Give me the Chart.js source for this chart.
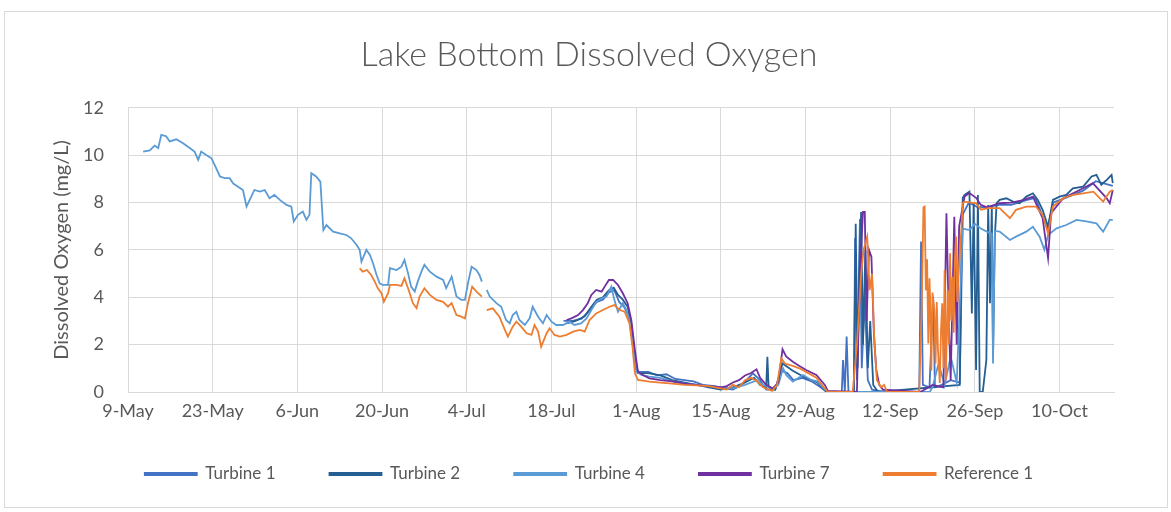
<!DOCTYPE html>
<html>
<head>
<meta charset="utf-8">
<script src="https://cdn.jsdelivr.net/npm/chart.js@4.4.1/dist/chart.umd.min.js"></script>
<style>
  html, body { margin: 0; padding: 0; background: #fff; }
</style>
</head>
<body>
<canvas id="chart" width="1171" height="512"></canvas>
<script>
// x values are days after 9 May, y values are dissolved oxygen in mg/L
const tickDays = [0, 14, 28, 42, 56, 70, 84, 98, 112, 126, 140, 154];
const tickLabels = ['9-May', '23-May', '6-Jun', '20-Jun', '4-Jul', '18-Jul', '1-Aug', '15-Aug', '29-Aug', '12-Sep', '26-Sep', '10-Oct'];
const seriesNames = ['Turbine 1', 'Turbine 2', 'Turbine 4', 'Turbine 7', 'Reference 1'];
const seriesColors = ['#4472C4', '#255E91', '#5B9BD5', '#7030A0', '#ED7D31'];

const turbine1 = [
  [72, 3.0], [73.5, 3.0], [75, 3.1], [76.5, 3.5], [77.5, 3.8], [78.5, 3.9], [79.5, 4.2], [80.4, 4.3],
  [81.2, 3.8], [82, 3.6], [82.8, 3.2], [83.4, 2.2], [83.9, 1.0], [84.5, 0.85], [86, 0.85], [87.5, 0.7],
  [89, 0.75], [90.5, 0.55], [92, 0.5], [93.5, 0.45], [95, 0.3], [97, 0.25], [98.5, 0.15], [100, 0.1],
  [101.5, 0.3], [103.3, 0.79], [104.5, 0.5], [105.5, 0.1], [107, 0.1], [108, 0.9], [109, 0.8], [110, 0.5],
  [111.5, 0.6], [113, 0.45], [114.5, 0.2], [115.5, 0], [118, 0], [118.2, 1.35], [118.5, 0], [118.8, 2.34],
  [119.1, 0], [120, 0], [120.2, 6.5], [120.5, 0.5], [121, 7.3], [121.3, 1.0], [121.8, 4.0], [122.3, 0.5],
  [123, 0.1], [125, 0], [130.8, 0], [131.1, 6.35], [131.4, 0.3], [132.5, 0.2], [133.1, 4.03], [133.4, 0.2],
  [134.5, 0.3], [136, 0.5], [137.5, 0.4], [138, 7.5], [139, 8.0], [140.5, 7.8], [141.8, 7.8], [144, 7.9],
  [146, 7.9], [148.5, 8.1], [150, 8.2], [152, 6.9], [153, 8.0], [155, 8.2], [157.9, 8.5], [160, 8.9], [162.8, 8.7]
];

const turbine2 = [
  [72.5, 2.9], [74, 3.0], [75.5, 3.2], [76.6, 3.6], [77.5, 3.9], [78.5, 4.0], [79.5, 4.3], [80.3, 4.4],
  [81, 4.1], [81.8, 3.9], [82.6, 3.6], [83.2, 2.9], [83.8, 1.4], [84.3, 0.8], [86, 0.8], [88, 0.7],
  [90, 0.5], [92, 0.4], [94, 0.3], [96, 0.2], [98, 0.1], [100, 0.2], [102, 0.4], [103.5, 0.6],
  [104.5, 0.3], [105.5, 0.2], [105.7, 1.49], [105.9, 0.2], [107, 0.1], [108.2, 1.2], [109.9, 0.9], [112, 0.6],
  [114, 0.4], [115.5, 0], [120, 0], [120.3, 7.1], [120.6, 1.0], [121, 6.0], [121.2, 7.6], [121.5, 2.0],
  [121.9, 6.0], [122.3, 1.0], [122.7, 3.0], [123.2, 0.3], [124, 0], [137.5, 0.3], [137.8, 6.0], [138, 8.2],
  [138.3, 8.32], [139.1, 8.46], [139.5, 3.32], [139.8, 8.0], [140.2, 0.93], [140.5, 8.32], [140.8, 0], [141.3, 0],
  [141.9, 1.35], [142.2, 7.9], [142.5, 3.75], [142.8, 7.9], [143, 1.49], [143.3, 6.56], [143.6, 7.97], [144.1, 8.11],
  [145.2, 8.18], [146.3, 8.04], [147.4, 7.97], [148.5, 8.25], [149.6, 8.39], [150.4, 8.11], [151.2, 7.69], [152.1, 6.98],
  [152.9, 8.11], [154, 8.25], [155.1, 8.32], [156.2, 8.6], [157.9, 8.67], [159.3, 9.1], [160.1, 9.17], [160.9, 8.75],
  [161.8, 8.96], [162.6, 9.17], [162.8, 8.82]
];

const turbine4 = [
  [2.5, 10.15], [3.6, 10.2], [4.4, 10.4], [5, 10.3], [5.5, 10.86], [6.3, 10.8], [6.9, 10.58], [8, 10.67],
  [9.1, 10.5], [10.2, 10.3], [11, 10.15], [11.6, 9.8], [12.1, 10.15], [13, 10.0], [13.8, 9.87], [14.3, 9.6],
  [15.2, 9.1], [16, 9.03], [16.8, 9.03], [17.4, 8.8], [18.2, 8.67], [19, 8.53], [19.6, 7.83], [20.1, 8.1],
  [20.9, 8.53], [21.8, 8.46], [22.6, 8.53], [23.4, 8.18], [24.2, 8.32], [25.1, 8.11], [26.2, 7.9], [27, 7.83],
  [27.4, 7.2], [28.1, 7.48], [28.9, 7.62], [29.5, 7.27], [30, 7.48], [30.3, 9.24], [31.1, 9.1], [31.8, 8.88],
  [32.3, 6.84], [32.8, 7.05], [33.9, 6.77], [35, 6.7], [36.1, 6.63], [36.9, 6.49], [37.8, 6.21], [38.3, 6.0],
  [38.6, 5.5], [39.4, 6.0], [40, 5.79], [40.5, 5.44], [41.1, 4.94], [41.6, 4.59], [42.1, 4.52], [43, 4.52],
  [43.3, 5.23], [44.4, 5.15], [45.2, 5.29], [45.7, 5.58], [46.3, 5.01], [46.8, 4.45], [47.4, 4.24], [47.9, 4.66],
  [48.5, 5.08], [49, 5.37], [49.9, 5.08], [51, 4.87], [52.1, 4.73], [52.6, 4.38], [53.5, 4.87], [54.3, 4.03],
  [55.1, 3.89], [55.7, 3.89], [56.2, 4.59], [56.8, 5.29], [57.6, 5.15], [58.1, 4.94], [58.5, 4.66], [58.9, null],
  [59.3, 4.31], [59.8, 4.03], [60.9, 3.75], [61.7, 3.6], [62.5, 3.04], [63.1, 2.9], [63.6, 3.25], [64.2, 3.39],
  [64.7, 3.04], [65.6, 2.83], [66.4, 3.11], [66.9, 3.6], [67.8, 3.18], [68.6, 2.9], [69.2, 3.25], [70, 2.97],
  [70.8, 2.83], [71.9, 2.83], [73, 2.97], [73.8, 2.83], [74.9, 2.9], [75.8, 3.11], [76.6, 3.46], [77.4, 3.81],
  [78.3, 3.96], [79.1, 4.03], [79.9, 4.45], [80.4, 3.89], [81, 3.39], [81.8, 3.75], [82.4, 3.46], [82.9, 3.04],
  [83.5, 1.91], [84, 0.86], [84.9, 0.72], [86.2, 0.65], [88, 0.6], [90, 0.45], [92, 0.35], [94, 0.3],
  [96, 0.25], [98, 0.2], [100, 0.15], [102, 0.3], [104, 0.5], [105, 0.3], [106.6, 0.15], [107.5, 0.3],
  [108.3, 1.0], [108.8, 0.72], [109.9, 0.44], [111.6, 0.72], [113, 0.5], [114, 0.45], [115.2, 0.1], [116, 0],
  [132.5, 0], [133, 0.2], [134, 1.2], [135, 0.3], [136, 1.5], [137, 0.4], [138, 6.9], [139.1, 6.84], [140, 7.1],
  [141, 6.9], [142.5, 6.7], [142.8, 6.7], [143, 1.2], [143.3, 6.8], [144.1, 6.77], [145.8, 6.42], [146.8, 6.56],
  [148.5, 6.77], [149.6, 6.98], [150.7, 6.56], [151.5, 6.0], [152.1, 6.63], [153.5, 6.91], [155.1, 7.05], [156.8, 7.27],
  [158.4, 7.2], [160.1, 7.12], [161.2, 6.77], [162.3, 7.27], [162.8, 7.27]
];

const turbine7 = [
  [72.5, 3.04], [73.3, 3.11], [74.4, 3.25], [75.2, 3.46], [76, 3.75], [76.6, 4.1], [77.4, 4.31], [78.3, 4.24],
  [78.8, 4.45], [79.5, 4.73], [80.2, 4.73], [81, 4.52], [81.8, 4.17], [82.6, 3.75], [83.2, 3.04], [83.8, 1.77],
  [84.3, 0.86], [85.1, 0.72], [86.2, 0.58], [88, 0.5], [90, 0.45], [92, 0.35], [94, 0.3], [96, 0.25],
  [98, 0.2], [99, 0.25], [100, 0.4], [101, 0.5], [102, 0.7], [103, 0.8], [103.9, 0.96], [104.5, 0.6],
  [105.5, 0.3], [106.6, 0.15], [107.5, 0.4], [108.2, 1.8], [108.8, 1.5], [109.9, 1.28], [111, 1.1], [112.1, 0.93],
  [113.8, 0.72], [115.2, 0.3], [115.7, 0.05], [120.5, 0], [121, 5.0], [121.5, 7.6], [121.8, 7.6], [122.1, 3.0],
  [122.5, 6.0], [122.9, 5.7], [123.3, 2.5], [123.7, 0.93], [124.2, 0.3], [124.8, 0.1], [131, 0], [133, 0.3],
  [134.8, 0.2], [135.3, 7.55], [135.7, 3.0], [136, 0.5], [136.6, 7.4], [137, 2.0], [137.4, 7.0], [138.3, 8.25],
  [139.1, 8.4], [140.2, 8.2], [141, 7.9], [142, 7.8], [144.1, 7.97], [146, 8.0], [148, 8.1], [149.6, 8.25],
  [151.2, 7.34], [152.1, 5.65], [152.6, 7.55], [154.6, 8.18], [157.9, 8.6], [159.5, 8.82], [161.8, 8.18], [162.3, 7.97],
  [162.8, 8.53]
];

const reference1 = [
  [38.3, 5.22], [38.8, 5.08], [39.5, 5.15], [40.2, 4.94], [40.8, 4.66], [41.3, 4.38], [41.9, 4.17], [42.3, 3.81],
  [43, 4.17], [43.3, 4.52], [44.4, 4.52], [45.2, 4.48], [45.7, 4.8], [46.3, 4.38], [47.1, 3.75], [47.7, 3.54],
  [48.2, 4.03], [49, 4.38], [49.9, 4.1], [51, 3.89], [52.1, 3.81], [52.9, 3.6], [53.5, 3.75], [54.3, 3.25],
  [55.1, 3.18], [55.7, 3.11], [56.2, 3.75], [56.9, 4.45], [57.6, 4.24], [58.5, 4.03], [58.9, null], [59.3, 3.46],
  [60.3, 3.53], [61.4, 3.18], [62.3, 2.62], [62.8, 2.34], [63.6, 2.76], [64.2, 2.97], [65, 2.76], [65.9, 2.48],
  [66.7, 2.41], [67.2, 2.83], [67.8, 2.55], [68.3, 1.91], [69.2, 2.48], [69.7, 2.69], [70.5, 2.41], [71.4, 2.34],
  [72.5, 2.41], [73.6, 2.55], [74.7, 2.62], [75.5, 2.55], [76.3, 3.04], [77.4, 3.32], [78.5, 3.46], [79.6, 3.6],
  [80.4, 3.67], [81.3, 3.46], [82.1, 3.39], [82.9, 2.9], [83.4, 1.91], [83.8, 0.79], [84.3, 0.51], [86.2, 0.44],
  [88, 0.4], [90, 0.35], [92, 0.3], [94, 0.28], [96, 0.25], [98, 0.15], [99, 0.1], [100, 0.3],
  [101, 0.2], [102, 0.5], [103, 0.6], [104, 0.45], [105, 0.2], [106.5, 0.05], [107.3, 0.3], [108, 1.42],
  [108.6, 1.2], [109.9, 1.1], [111, 1.0], [112.1, 0.85], [113.8, 0.6], [115.2, 0.15], [115.7, 0], [119.8, 0],
  [120.5, 2.0], [121.2, 5.0], [121.6, 6.0], [122.2, 6.56], [122.6, 4.3], [123, 5.0], [123.4, 2.0], [123.8, 0.5],
  [124.5, 0.2], [125, 0.3], [125.5, 0], [130.8, 0], [131.2, 3.5], [131.5, 7.8], [131.7, 7.83], [131.9, 4.3],
  [132.1, 5.6], [132.3, 2.05], [132.5, 4.8], [132.6, 3.9], [132.8, 0.9], [133, 4.2], [133.3, 3.46], [133.5, 1.2],
  [133.7, 3.8], [133.9, 1.77], [134.2, 0.38], [134.4, 2.6], [134.6, 3.75], [134.8, 1.0], [135, 5.15], [135.2, 0.5],
  [135.5, 4.3], [135.7, 2.0], [135.9, 5.86], [136.1, 3.0], [136.3, 4.87], [136.5, 2.5], [136.7, 5.6], [136.9, 6.56],
  [137.1, 3.8], [137.4, 5.44], [137.6, 6.2], [137.8, 7.0], [138, 7.97], [138.3, 8.04], [140.2, 7.97], [141, 7.7],
  [142.2, 7.76], [144.1, 7.76], [145.8, 7.34], [146.8, 7.69], [148.5, 7.83], [150.1, 7.83], [151.2, 7.48], [152.1, 6.7],
  [152.9, 7.83], [154.6, 8.18], [156.2, 8.32], [157.9, 8.39], [159.6, 8.46], [161.2, 8.04], [162.3, 8.46], [162.8, 8.53]
];

const seriesData = [turbine1, turbine2, turbine4, turbine7, reference1];

Chart.defaults.font.family = 'Lato, "Open Sans", sans-serif';
Chart.defaults.color = '#595959';

// white background and the thin grey frame round the whole chart
const chartFrame = {
  id: 'chartFrame',
  beforeDraw(chart) {
    const c = chart.ctx;
    c.save();
    c.fillStyle = '#ffffff';
    c.fillRect(0, 0, chart.width, chart.height);
    c.strokeStyle = '#d9d9d9';
    c.lineWidth = 1;
    c.strokeRect(4.5, 11.5, chart.width - 8, chart.height - 16);
    c.restore();
  }
};

// the wide item spacing also pads the legend from the top, so lift it back up
const legendLift = {
  id: 'legendLift',
  afterLayout(chart) {
    if (chart.legend) {
      chart.legend.top -= 10.5;
      chart.legend.bottom -= 10.5;
    }
  }
};

const datasets = seriesNames.map((name, i) => ({
  label: name,
  data: seriesData[i].map(([x, y]) => ({ x: x, y: y })),
  borderColor: seriesColors[i],
  backgroundColor: seriesColors[i],
  borderWidth: 1.8,
  pointRadius: 0,
  tension: 0,
  order: seriesNames.length - i
}));

new Chart(document.getElementById('chart'), {
  type: 'line',
  data: { datasets: datasets },
  plugins: [chartFrame, legendLift],
  options: {
    responsive: false,
    animation: false,
    layout: { padding: { left: 50, right: 43, top: 0, bottom: 9 } },
    plugins: {
      title: {
        display: true,
        text: 'Lake Bottom Dissolved Oxygen',
        color: '#595959',
        font: { size: 34, weight: 300 },
        padding: { top: 35, bottom: 32 }
      },
      legend: {
        position: 'bottom',
        labels: {
          boxWidth: 52,
          boxHeight: 2,
          padding: 54,
          color: '#595959',
          font: { size: 17 },
          sort: (a, b) => a.datasetIndex - b.datasetIndex
        }
      },
      tooltip: { enabled: false }
    },
    scales: {
      x: {
        type: 'linear',
        min: 0,
        max: 163,
        afterBuildTicks: scale => { scale.ticks = tickDays.map(v => ({ value: v })); },
        afterFit: scale => { scale.height = 30; },
        ticks: {
          autoSkip: false,
          maxRotation: 0,
          padding: 8,
          font: { size: 18 },
          callback: value => tickLabels[tickDays.indexOf(value)]
        },
        grid: { color: '#d9d9d9', drawTicks: false },
        border: { color: '#d9d9d9' }
      },
      y: {
        min: 0,
        max: 12,
        afterFit: scale => { scale.width = 78; },
        ticks: { stepSize: 2, padding: 24, font: { size: 18 } },
        grid: { color: '#d9d9d9', drawTicks: false },
        border: { display: false },
        title: {
          display: true,
          text: 'Dissolved Oxygen (mg/L)',
          color: '#595959',
          font: { size: 20 },
          padding: { top: 0, bottom: 0 }
        }
      },
      yRight: {
        position: 'right',
        afterFit: scale => { scale.width = 14; },
        ticks: { display: false },
        grid: { display: false },
        border: { display: false }
      }
    }
  }
});
</script>
</body>
</html>
